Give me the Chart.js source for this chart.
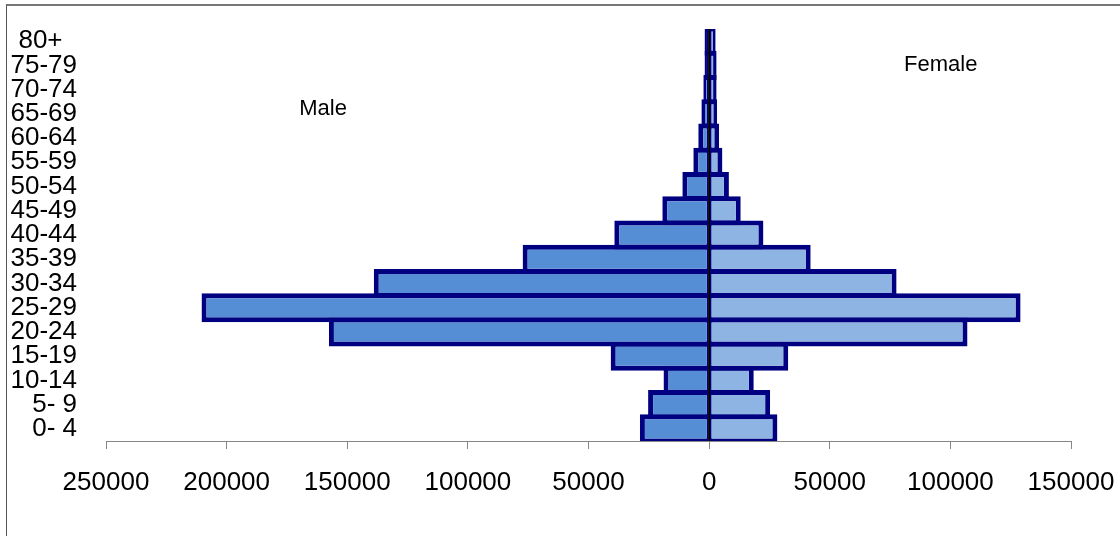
<!DOCTYPE html>
<html>
<head>
<meta charset="utf-8">
<script src="https://cdn.jsdelivr.net/npm/chart.js@4.4.1/dist/chart.umd.min.js"></script>
<style>
	body { margin: 0; background: #fff; }
	#wrap { position: relative; width: 1120px; height: 536px; overflow: hidden; }
	#frame {
		position: absolute; left: 6px; top: 4px; width: 1200px; height: 600px;
		border-left: 1px solid #555; border-top: 2px solid #777; pointer-events: none;
	}
	canvas { position: absolute; left: 0; top: 0; }
</style>
</head>
<body>
<div id="wrap">
	<canvas id="chart" width="1120" height="536"></canvas>
	<div id="frame"></div>
</div>
<script>
// age groups, youngest first (drawn bottom to top)
const ageGroups = ["0- 4", "5- 9", "10-14", "15-19", "20-24", "25-29", "30-34", "35-39",
	"40-44", "45-49", "50-54", "55-59", "60-64", "65-69", "70-74", "75-79", "80+  "];

const maleValues = [28700, 25300, 18900, 40800, 157600, 210400, 139000, 77300,
	39300, 19400, 11100, 6550, 4500, 3200, 2400, 1900, 1900];

const femaleValues = [28300, 25300, 18500, 32800, 107100, 129100, 77700, 42100,
	22500, 13100, 8200, 5500, 4100, 3300, 3100, 3100, 2700];

const xTickMin = -250000;
const xTickMax = 150000;
const xTickStep = 50000;

// series captions, placed in data units (x value, category index)
const captions = [
	{ text: "Male", x: -160000, y: 13.2 },
	{ text: "Female", x: 96000, y: 15 },
];

const FONT = "'Liberation Sans', Arial, sans-serif";

const zeroLine = {
	id: "zeroLine",
	afterDatasetsDraw(chart) {
		const { ctx, chartArea, scales } = chart;
		const x0 = scales.x.getPixelForValue(0);
		ctx.save();
		ctx.strokeStyle = "#000";
		ctx.lineWidth = 2;
		ctx.beginPath();
		ctx.moveTo(x0, chartArea.top);
		ctx.lineTo(x0, chartArea.bottom);
		ctx.stroke();
		ctx.restore();
	},
};

const captionPlugin = {
	id: "captions",
	afterDraw(chart) {
		const { ctx, scales } = chart;
		ctx.save();
		ctx.font = "22px " + FONT;
		ctx.fillStyle = "#000";
		ctx.textAlign = "center";
		ctx.textBaseline = "middle";
		captions.forEach((c) => {
			ctx.fillText(c.text, scales.x.getPixelForValue(c.x), scales.y.getPixelForValue(c.y));
		});
		ctx.restore();
	},
};

const context = document.getElementById("chart").getContext("2d");

const chart = new Chart(context, {
	type: "bar",
	data: {
		labels: ageGroups,
		datasets: [
			{
				label: "Male",
				data: maleValues.map((v) => -v),
				backgroundColor: "#558ED5",
				borderColor: "#000080",
				// thin edge on the zero side
				borderWidth: { top: 5, bottom: 5, left: 5, right: 2 },
			},
			{
				label: "Female",
				data: femaleValues,
				backgroundColor: "#8EB4E3",
				borderColor: "#000080",
				borderWidth: { top: 5, bottom: 5, left: 2, right: 5 },
			},
		],
	},
	options: {
		indexAxis: "y",
		responsive: false,
		animation: false,
		datasets: {
			bar: {
				borderSkipped: false,
				categoryPercentage: 1,
				barPercentage: 1.2,
			},
		},
		layout: { padding: { top: 29, right: 49, left: 0, bottom: 0 } },
		plugins: {
			legend: { display: false },
			tooltip: { enabled: false },
		},
		scales: {
			x: {
				type: "linear",
				stacked: true,
				min: xTickMin,
				max: xTickMax,
				afterFit(scale) {
					scale.height = 95;
					scale.paddingLeft = 0;
					scale.paddingRight = 0;
				},
				ticks: {
					stepSize: xTickStep,
					maxRotation: 0,
					padding: 18,
					color: "#000",
					font: { family: FONT, size: 26 },
					callback: (v) => Math.abs(v),
				},
				grid: {
					drawOnChartArea: false,
					drawTicks: true,
					tickLength: 8,
					color: "#868686",
				},
				border: { color: "#868686", width: 1 },
			},
			y: {
				stacked: true,
				reverse: true,
				afterFit(scale) {
					scale.width = 106;
					scale.paddingTop = 0;
					scale.paddingBottom = 0;
				},
				ticks: {
					padding: 29,
					color: "#000",
					font: { family: FONT, size: 26 },
					autoSkip: false,
				},
				grid: { display: false, drawTicks: false },
				border: { display: false },
			},
		},
	},
	plugins: [zeroLine, captionPlugin],
});
</script>
</body>
</html>
